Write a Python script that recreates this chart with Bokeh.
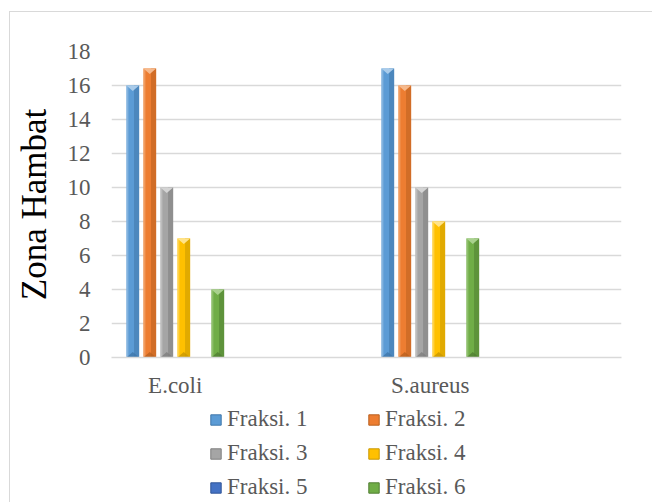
from bokeh.plotting import figure
from bokeh.layouts import column
from bokeh.models import Range1d, FixedTicker, Legend, LegendItem, ColumnDataSource
from bokeh.embed import file_html
from bokeh.resources import INLINE

# ---- data ----
categories = ["E.coli", "S.aureus"]
series_names = ["Fraksi. 1", "Fraksi. 2", "Fraksi. 3", "Fraksi. 4", "Fraksi. 5", "Fraksi. 6"]
fraksi_1 = [16, 17]
fraksi_2 = [17, 16]
fraksi_3 = [10, 10]
fraksi_4 = [7, 8]
fraksi_5 = [0, 0]
fraksi_6 = [4, 7]
y_ticks = [0, 2, 4, 6, 8, 10, 12, 14, 16, 18]
y_title = "Zona Hambat"

series_values = [fraksi_1, fraksi_2, fraksi_3, fraksi_4, fraksi_5, fraksi_6]

# ---- style ----
base_cols = ["#5B9BD5", "#ED7D31", "#A5A5A5", "#FFC000", "#4472C4", "#70AD47"]
dark_cols = ["#3F77AA", "#B9601F", "#7E7E7E", "#C99700", "#2F5597", "#507E32"]
light_cols = ["#A9CBEA", "#F6B98C", "#D4D4D4", "#FFE38A", "#8FAADC", "#A9D18E"]
SERIF = "Liberation Serif"
n_series = len(series_names)
pitch = 0.8 / n_series        # slot width 1, groups fill 80% of a slot
bar_w = 0.1
bevel = 0.33                  # triangle depth in value units

p = figure(width=642, height=388, x_range=Range1d(0, 4), y_range=Range1d(0, 18),
           output_backend="svg", toolbar_location=None,
           min_border_left=101, min_border_right=31, min_border_top=39, min_border_bottom=42)
p.outline_line_color = None
p.background_fill_color = "white"
p.border_fill_color = "white"

# category slots: each category takes slot 2*i, blank slot after it
slot = [2 * i for i in range(len(categories))]
bar_x = [[s + 0.1 + (j + 0.5) * pitch for s in slot] for j in range(n_series)]

for j, (name, vals) in enumerate(zip(series_names, series_values)):
    xs = bar_x[j]
    src = ColumnDataSource(dict(x=xs, top=vals))
    p.vbar(x="x", top="top", bottom=0, width=bar_w, source=src,
           fill_color=base_cols[j], line_color=None)
    # right dark strip
    p.vbar(x=[x + bar_w * 0.3 for x in xs], top=vals, bottom=0, width=bar_w * 0.4,
           fill_color=dark_cols[j], fill_alpha=0.55, line_color=None)
    # left light strip
    p.vbar(x=[x - bar_w * 0.42 for x in xs], top=vals, bottom=0, width=bar_w * 0.16,
           fill_color=light_cols[j], fill_alpha=0.5, line_color=None)
    # bevel triangles for non-zero bars
    txs, tys, bxs, bys = [], [], [], []
    for x, v in zip(xs, vals):
        if v > 0:
            txs.append([x - bar_w / 2, x + bar_w / 2, x])
            tys.append([v, v, v - bevel])
            bxs.append([x - bar_w / 2, x + bar_w / 2, x])
            bys.append([0, 0, bevel])
    if txs:
        p.patches(txs, tys, fill_color=light_cols[j], line_color=None)
        p.patches(bxs, bys, fill_color=dark_cols[j], fill_alpha=0.8, line_color=None)

# axes
p.xaxis.ticker = FixedTicker(ticks=[s + 0.5 for s in slot])
p.xaxis.major_label_overrides = {s + 0.5: c for s, c in zip(slot, categories)}
p.xaxis.major_tick_line_color = None
p.xaxis.minor_tick_line_color = None
p.xaxis.axis_line_color = "#D9D9D9"
p.xaxis.axis_line_width = 1.5
p.xaxis.major_label_standoff = 9
p.xaxis.major_label_text_font = SERIF
p.xaxis.major_label_text_font_size = "23px"
p.xaxis.major_label_text_color = "#595959"

p.yaxis.ticker = FixedTicker(ticks=y_ticks)
p.yaxis.axis_line_color = None
p.yaxis.major_tick_line_color = None
p.yaxis.minor_tick_line_color = None
p.yaxis.major_label_standoff = 15
p.yaxis.major_label_text_font = SERIF
p.yaxis.major_label_text_font_size = "23px"
p.yaxis.major_label_text_color = "#595959"
p.yaxis.axis_label = y_title
p.yaxis.axis_label_text_font = SERIF
p.yaxis.axis_label_text_font_size = "35px"
p.yaxis.axis_label_text_font_style = "normal"
p.yaxis.axis_label_text_color = "#000000"
p.yaxis.axis_label_standoff = 11

p.xgrid.grid_line_color = None
p.ygrid.grid_line_color = "#D9D9D9"
p.ygrid.grid_line_width = 1.5

# ---- legend panel (separate figure below the chart; its frame aligns with the chart's) ----
pl = figure(width=642, height=102, x_range=Range1d(0, 4), y_range=Range1d(100, 101),
            output_backend="svg", toolbar_location=None,
            x_axis_location=None, y_axis_location=None,
            min_border_left=0, min_border_right=0, min_border_top=0, min_border_bottom=0)
pl.outline_line_color = None
pl.xgrid.grid_line_color = None
pl.ygrid.grid_line_color = None
legend_items = []
for j, (name, vals) in enumerate(zip(series_names, series_values)):
    r = pl.vbar(x=bar_x[j], top=vals, width=bar_w, fill_color=base_cols[j],
                line_color=dark_cols[j], line_width=1)
    r.visible = False
    legend_items.append(LegendItem(label=name, renderers=[r]))

legend = Legend(items=legend_items, location=(98, -2), orientation="horizontal", ncols=2,
                label_text_font=SERIF, label_text_font_size="23px", label_text_color="#595959",
                glyph_width=13, glyph_height=13, label_standoff=5, label_width=140,
                label_height=34, spacing=0, padding=0, margin=0,
                inactive_fill_alpha=0, click_policy="none",
                border_line_color=None, background_fill_alpha=0)
pl.add_layout(legend, "center")

layout = column(p, pl, spacing=0)
layout.styles = {"margin-left": "9px", "margin-top": "11px",
                 "border-left": "1px solid #D9D9D9", "border-top": "1px solid #D9D9D9"}

open("out.html", "w").write(file_html(layout, INLINE))
